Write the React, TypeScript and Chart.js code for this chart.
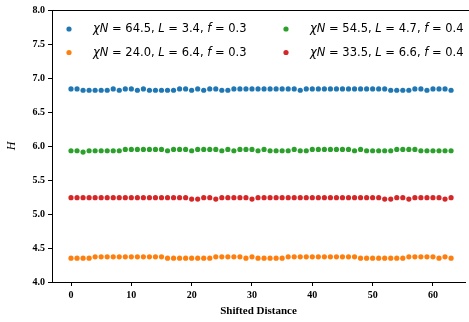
import React, { useEffect, useRef } from "react";
import { Chart, registerables } from "chart.js";

Chart.register(...registerables);

const distance = [
  0, 1, 2, 3, 4, 5, 6, 7, 8, 9, 10, 11, 12, 13, 14, 15, 16, 17, 18, 19, 20, 21,
  22, 23, 24, 25, 26, 27, 28, 29, 30, 31, 32, 33, 34, 35, 36, 37, 38, 39, 40,
  41, 42, 43, 44, 45, 46, 47, 48, 49, 50, 51, 52, 53, 54, 55, 56, 57, 58, 59,
  60, 61, 62, 63,
];

const seriesLabels = [
  "χN = 64.5, L = 3.4, f = 0.3",
  "χN = 24.0, L = 6.4, f = 0.3",
  "χN = 54.5, L = 4.7, f = 0.4",
  "χN = 33.5, L = 6.6, f = 0.4",
];

const seriesColors = ["#1f77b4", "#ff7f0e", "#2ca02c", "#d62728"];

const hBlue = [
  6.84, 6.84, 6.82, 6.82, 6.82, 6.82, 6.82, 6.84, 6.82, 6.84,
  6.84, 6.82, 6.84, 6.82, 6.82, 6.82, 6.82, 6.82, 6.84, 6.84,
  6.82, 6.84, 6.82, 6.84, 6.84, 6.82, 6.82, 6.84, 6.84, 6.84,
  6.84, 6.84, 6.84, 6.84, 6.84, 6.84, 6.84, 6.84, 6.82, 6.84,
  6.84, 6.84, 6.84, 6.84, 6.84, 6.84, 6.84, 6.84, 6.84, 6.84,
  6.84, 6.84, 6.84, 6.82, 6.82, 6.82, 6.82, 6.84, 6.84, 6.82,
  6.84, 6.84, 6.84, 6.82,
];

const hOrange = [
  4.35, 4.35, 4.35, 4.35, 4.37, 4.37, 4.37, 4.37, 4.37, 4.37,
  4.37, 4.37, 4.37, 4.37, 4.37, 4.37, 4.35, 4.35, 4.35, 4.35,
  4.35, 4.35, 4.35, 4.35, 4.37, 4.37, 4.37, 4.37, 4.37, 4.35,
  4.37, 4.35, 4.35, 4.35, 4.35, 4.35, 4.37, 4.37, 4.37, 4.37,
  4.37, 4.37, 4.37, 4.37, 4.37, 4.37, 4.37, 4.37, 4.35, 4.35,
  4.35, 4.35, 4.35, 4.35, 4.35, 4.35, 4.37, 4.37, 4.37, 4.37,
  4.37, 4.35, 4.37, 4.35,
];

const hGreen = [
  5.93, 5.93, 5.91, 5.93, 5.93, 5.93, 5.93, 5.93, 5.93, 5.95,
  5.95, 5.95, 5.95, 5.95, 5.95, 5.95, 5.93, 5.95, 5.95, 5.95,
  5.93, 5.95, 5.95, 5.95, 5.95, 5.93, 5.95, 5.93, 5.95, 5.95,
  5.95, 5.93, 5.95, 5.93, 5.93, 5.93, 5.93, 5.95, 5.93, 5.93,
  5.95, 5.95, 5.95, 5.95, 5.95, 5.95, 5.95, 5.93, 5.95, 5.93,
  5.93, 5.93, 5.93, 5.93, 5.95, 5.95, 5.95, 5.95, 5.93, 5.93,
  5.93, 5.93, 5.93, 5.93,
];

const hRed = [
  5.24, 5.24, 5.24, 5.24, 5.24, 5.24, 5.24, 5.24, 5.24, 5.24,
  5.24, 5.24, 5.24, 5.24, 5.24, 5.24, 5.24, 5.24, 5.24, 5.24,
  5.22, 5.22, 5.24, 5.24, 5.22, 5.24, 5.24, 5.24, 5.24, 5.24,
  5.22, 5.24, 5.24, 5.24, 5.24, 5.24, 5.24, 5.24, 5.24, 5.24,
  5.24, 5.24, 5.24, 5.24, 5.24, 5.24, 5.24, 5.24, 5.24, 5.24,
  5.24, 5.24, 5.22, 5.22, 5.24, 5.24, 5.22, 5.24, 5.24, 5.24,
  5.24, 5.24, 5.22, 5.24,
];

const xTicks = [0, 10, 20, 30, 40, 50, 60];
const yTicks = [4.0, 4.5, 5.0, 5.5, 6.0, 6.5, 7.0, 7.5, 8.0];

const seriesValues = [hBlue, hOrange, hGreen, hRed];

const SERIF = "'Liberation Serif', 'Times New Roman', serif";
const SANS = "'DejaVu Sans', sans-serif";

const frameAndLegend = {
  id: "frameAndLegend",
  afterDraw(chart: any) {
    const { ctx, chartArea } = chart;
    ctx.save();
    ctx.strokeStyle = "#000";
    ctx.lineWidth = 1;
    ctx.beginPath();
    ctx.moveTo(chartArea.left, Math.round(chartArea.top) + 0.5);
    ctx.lineTo(chart.width, Math.round(chartArea.top) + 0.5);
    ctx.stroke();

    const colX = [chartArea.left + 17, chartArea.left + 234];
    const rowY = [chartArea.top + 19, chartArea.top + 42.5];
    const fontSize = 11.5;
    chart.data.datasets.forEach((ds: any, i: number) => {
      const col = Math.floor(i / 2);
      const row = i % 2;
      const mx = colX[col];
      const my = rowY[row];
      ctx.fillStyle = ds.backgroundColor;
      ctx.beginPath();
      ctx.arc(mx, my, 2.6, 0, Math.PI * 2);
      ctx.fill();
      let x = mx + 24;
      ctx.fillStyle = "#000";
      ctx.textBaseline = "middle";
      ctx.textAlign = "left";
      const text: string = ds.label;
      for (const ch of text) {
        const italic = /[A-Za-zχ]/.test(ch);
        ctx.font = `${italic ? "italic " : ""}${fontSize}px ${SANS}`;
        ctx.fillText(ch, x, my + 0.5);
        x += ctx.measureText(ch).width;
      }
    });
    ctx.restore();
  },
};

export default function App() {
  const ref = useRef<HTMLCanvasElement | null>(null);

  useEffect(() => {
    if (!ref.current) return;
    const chart = new Chart(ref.current, {
      type: "scatter",
      data: {
        datasets: seriesValues.map((vals, i) => ({
          label: seriesLabels[i],
          data: distance.map((d, j) => ({ x: d, y: vals[j] })),
          backgroundColor: seriesColors[i],
          borderColor: seriesColors[i],
          pointRadius: 2.6,
          pointBorderWidth: 0,
        })),
      },
      options: {
        animation: false,
        responsive: false,
        maintainAspectRatio: false,
        layout: { padding: { top: 10, right: 0, left: 0, bottom: 0 } },
        plugins: {
          legend: { display: false },
          tooltip: { enabled: false },
        },
        scales: {
          x: {
            type: "linear",
            min: -3.15,
            max: 65.31,
            afterBuildTicks: (scale: any) => {
              scale.ticks = xTicks.map((v) => ({ value: v }));
            },
            afterFit: (scale: any) => {
              scale.height = 40;
            },
            grid: {
              drawOnChartArea: false,
              drawTicks: true,
              tickLength: 4,
              color: "#000",
            },
            border: { display: true, color: "#000", width: 1 },
            ticks: {
              color: "#000",
              padding: 3,
              maxRotation: 0,
              font: { family: SERIF, weight: "bold", size: 10 },
              callback: (v: any) => String(v),
            },
            title: {
              display: true,
              text: "Shifted Distance",
              color: "#000",
              font: { family: SERIF, weight: "bold", size: 11 },
              padding: { top: 0, bottom: 4 },
            },
          },
          y: {
            type: "linear",
            min: 4.0,
            max: 8.0,
            afterBuildTicks: (scale: any) => {
              scale.ticks = yTicks.map((v) => ({ value: v }));
            },
            afterFit: (scale: any) => {
              scale.width = 52;
            },
            grid: {
              drawOnChartArea: false,
              drawTicks: true,
              tickLength: 4,
              color: "#000",
            },
            border: { display: true, color: "#000", width: 1 },
            ticks: {
              color: "#000",
              padding: 3,
              font: { family: SERIF, weight: "bold", size: 10 },
              callback: (v: any) => Number(v).toFixed(1),
            },
            title: {
              display: true,
              text: "H",
              color: "#000",
              font: { family: SERIF, style: "italic", size: 12 },
              padding: { top: 5, bottom: 0 },
            },
          },
        },
      },
      plugins: [frameAndLegend],
    } as any);
    return () => chart.destroy();
  }, []);

  return (
    <div style={{ position: "fixed", left: 0, top: 0, width: 469, height: 322, background: "#fff" }}>
      <canvas ref={ref} width={469} height={322} style={{ width: 469, height: 322, display: "block" }} />
    </div>
  );
}
